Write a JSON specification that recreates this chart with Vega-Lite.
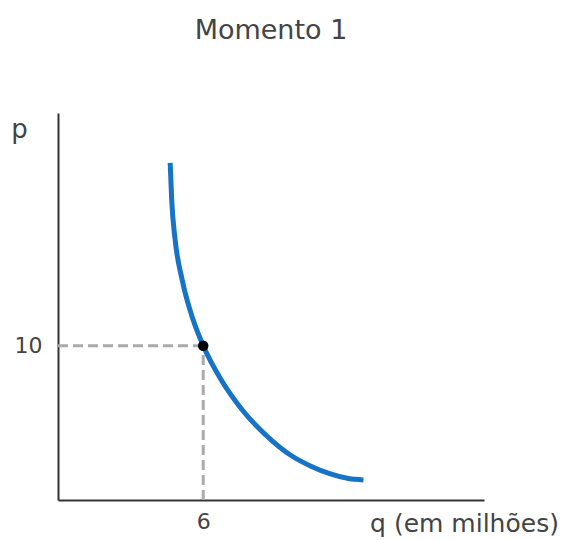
{
  "$schema": "https://vega.github.io/schema/vega-lite/v6.json",
  "autosize": "none",
  "width": 426,
  "height": 387,
  "padding": {"left": 58, "top": 113, "right": 82, "bottom": 40},
  "background": "white",
  "title": {"text": "Momento 1", "fontSize": 27, "font": "DejaVu Sans", "fontWeight": "normal", "color": "#444", "anchor": "middle", "frame": "group", "offset": 68},
  "config": {"view": {"stroke": null}, "font": "DejaVu Sans"},
  "datasets": {
    "curve": [
      {"q": 4.634, "p": 21.86},
      {"q": 4.697, "p": 19.46},
      {"q": 4.841, "p": 16.86},
      {"q": 5.131, "p": 14.27},
      {"q": 5.586, "p": 11.67},
      {"q": 6.0, "p": 10.0},
      {"q": 6.745, "p": 7.78},
      {"q": 7.614, "p": 5.84},
      {"q": 8.814, "p": 3.89},
      {"q": 9.6, "p": 2.92},
      {"q": 10.428, "p": 2.21},
      {"q": 11.255, "p": 1.69},
      {"q": 12.0, "p": 1.39},
      {"q": 12.621, "p": 1.3}
    ],
    "guides": [
      {"q": 0, "q2": 6, "p": 10, "p2": 10},
      {"q": 6, "q2": 6, "p": 0, "p2": 10}
    ],
    "point": [{"q": 6, "p": 10}]
  },
  "layer": [
    {
      "data": {"name": "guides"},
      "mark": {"type": "rule", "color": "#aaaaaa", "strokeWidth": 3, "strokeDash": [10, 5]},
      "encoding": {
        "x": {"field": "q", "type": "quantitative", "scale": {"domain": [0, 17.6], "nice": false, "zero": false},
          "axis": {"values": [6], "ticks": false, "grid": false, "domainColor": "#333", "domainWidth": 2, "labelFontSize": 22, "labelColor": "#444", "labelPadding": 11,
            "title": "q (em milhões)", "titleFontSize": 25, "titleFontWeight": "normal", "titleColor": "#444", "titleAlign": "center", "titleBaseline": "alphabetic", "titleX": 406, "titleY": 31}},
        "x2": {"field": "q2"},
        "y": {"field": "p", "type": "quantitative", "scale": {"domain": [0, 25.1], "nice": false, "zero": false},
          "axis": {"values": [10], "ticks": false, "grid": false, "domainColor": "#333", "domainWidth": 2, "labelFontSize": 22, "labelColor": "#444", "labelPadding": 16,
            "title": "p", "titleAngle": 0, "titleFontSize": 26, "titleFontWeight": "normal", "titleColor": "#444", "titleAlign": "center", "titleBaseline": "alphabetic", "titleX": -39, "titleY": 24}},
        "y2": {"field": "p2"}
      }
    },
    {
      "data": {"name": "curve"},
      "mark": {"type": "line", "color": "#1673c6", "strokeWidth": 5, "interpolate": "monotone", "strokeCap": "butt"},
      "encoding": {
        "x": {"field": "q", "type": "quantitative"},
        "y": {"field": "p", "type": "quantitative"}
      }
    },
    {
      "data": {"name": "point"},
      "mark": {"type": "circle", "color": "black", "size": 110, "opacity": 1},
      "encoding": {
        "x": {"field": "q", "type": "quantitative"},
        "y": {"field": "p", "type": "quantitative"}
      }
    }
  ]
}
